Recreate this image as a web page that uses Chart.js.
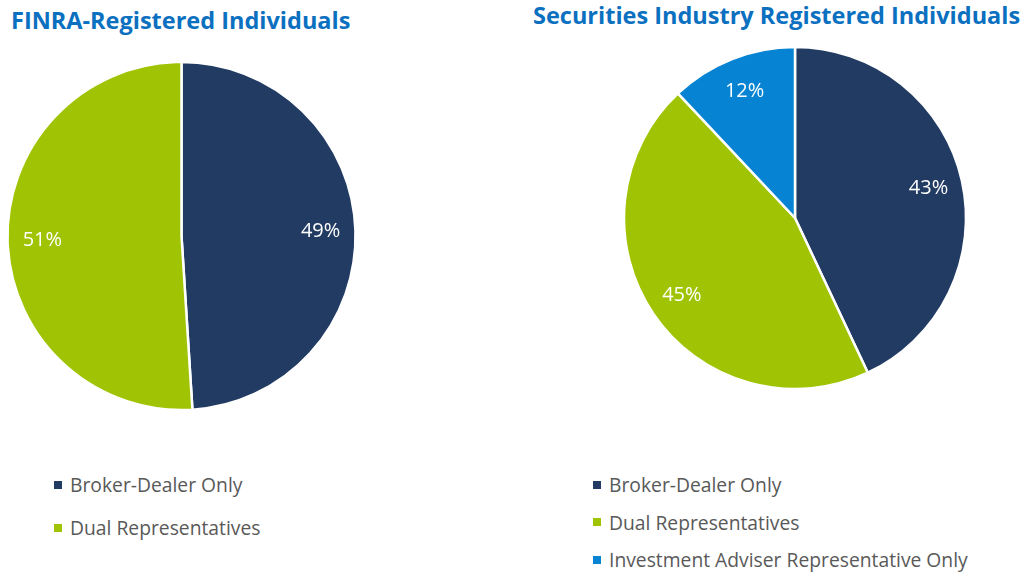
<!DOCTYPE html>
<html>
<head>
<meta charset="utf-8">
<script src="https://cdn.jsdelivr.net/npm/chart.js@4"></script>
<style>
  body { margin: 0; width: 1026px; height: 572px; background: #fff; position: relative; overflow: hidden; font-family: "Open Sans", sans-serif; }
  .title { position: absolute; font-weight: bold; font-size: 23.5px; color: #0b70c0; white-space: nowrap; line-height: 1; }
  canvas { position: absolute; }
  .legend { position: absolute; }
  .item { display: flex; align-items: center; font-size: 19.3px; color: #595959; line-height: 19px; white-space: nowrap; }
  .box { width: 8px; height: 8px; margin-right: 8px; flex: none; }
</style>
</head>
<body>
<div class="title" id="title1" style="left:11px; top:9px;"></div>
<div class="title" id="title2" style="left:533px; top:4px;"></div>
<canvas id="pie1" width="363" height="372" style="left:0px; top:50px;"></canvas>
<canvas id="pie2" width="350" height="348" style="left:620px; top:44px;"></canvas>
<div class="legend" id="legend1" style="left:54px; top:475px;"></div>
<div class="legend" id="legend2" style="left:593px; top:475px;"></div>
<script>
// ==================== DATOS ====================
const title1 = 'FINRA-Registered Individuals';
const title2 = 'Securities Industry Registered Individuals';

const labels1 = ['Broker-Dealer Only', 'Dual Representatives'];
const values1 = [49, 51];

const labels2 = ['Broker-Dealer Only', 'Dual Representatives', 'Investment Adviser Representative Only'];
const values2 = [43, 45, 12];

const colors = ['#213b63', '#a0c303', '#0683d2'];

// ==================== ETIQUETAS ====================
const pctLabels = {
    id: 'pctLabels',
    afterDatasetsDraw(chart) {
        const ctx = chart.ctx;
        const meta = chart.getDatasetMeta(0);
        const data = chart.data.datasets[0].data;
        ctx.save();
        ctx.fillStyle = '#ffffff';
        ctx.font = '20px "Open Sans"';
        ctx.textAlign = 'center';
        ctx.textBaseline = 'middle';
        meta.data.forEach((arc, i) => {
            const mid = (arc.startAngle + arc.endAngle) / 2;
            const r = arc.outerRadius * 0.8;
            ctx.fillText(data[i] + '%', arc.x + Math.cos(mid) * r, arc.y + Math.sin(mid) * r);
        });
        ctx.restore();
    }
};

function newPie(id, labels, values, radius) {
    return new Chart(document.getElementById(id), {
        type: 'pie',
        data: {
            labels: labels,
            datasets: [{
                data: values,
                backgroundColor: colors.slice(0, values.length),
                borderColor: '#ffffff',
                borderWidth: 2.5
            }]
        },
        options: {
            responsive: false,
            animation: false,
            radius: radius,
            layout: { padding: 0 },
            plugins: {
                legend: { display: false },
                tooltip: { enabled: false },
                title: { display: false }
            }
        },
        plugins: [pctLabels]
    });
}

function buildLegend(id, labels, gap) {
    const el = document.getElementById(id);
    labels.forEach((lbl, i) => {
        const row = document.createElement('div');
        row.className = 'item';
        if (i > 0) row.style.marginTop = gap + 'px';
        const box = document.createElement('span');
        box.className = 'box';
        box.style.background = colors[i];
        row.appendChild(box);
        row.appendChild(document.createTextNode(lbl));
        el.appendChild(row);
    });
}

document.getElementById('title1').textContent = title1;
document.getElementById('title2').textContent = title2;

newPie('pie1', labels1, values1, 174);
newPie('pie2', labels2, values2, 171);

buildLegend('legend1', labels1, 24);
buildLegend('legend2', labels2, 18.5);
</script>
</body>
</html>
